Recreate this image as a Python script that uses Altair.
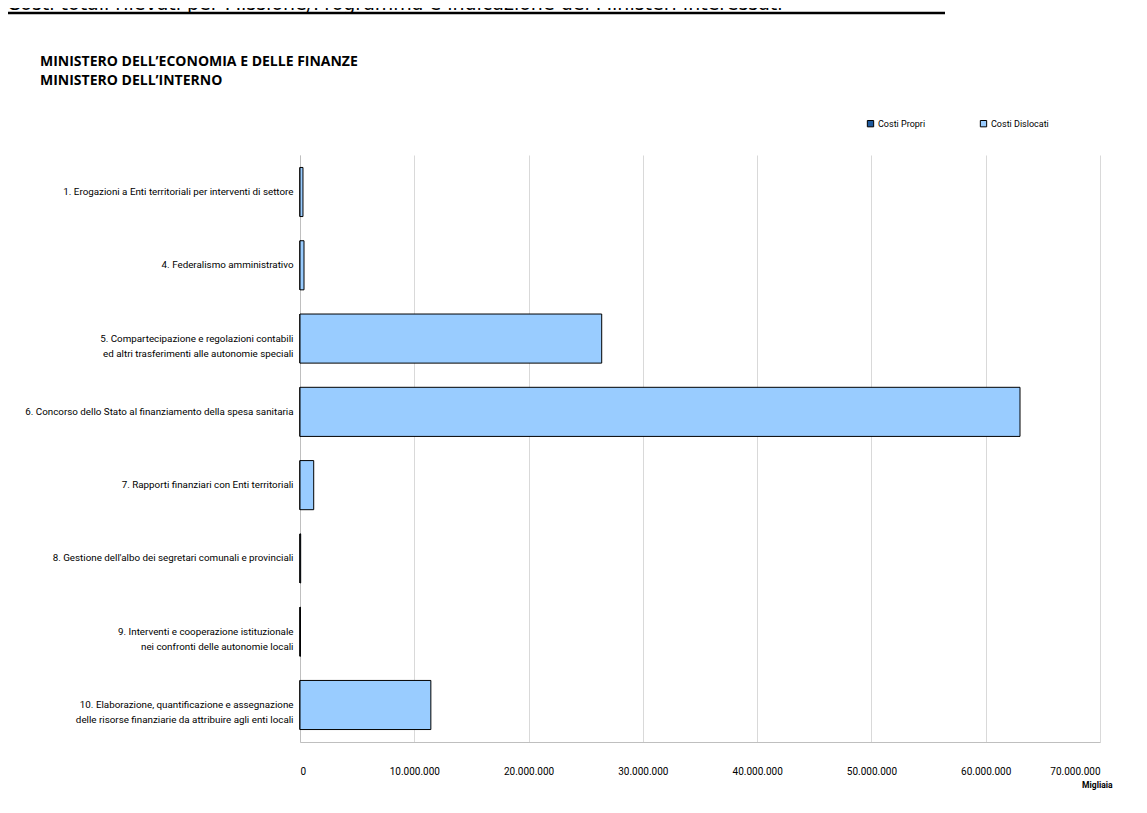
import altair as alt
import pandas as pd

categories = [
    "1. Erogazioni a Enti territoriali per interventi di settore",
    "4. Federalismo amministrativo",
    "5. Compartecipazione e regolazioni contabili|ed altri trasferimenti alle autonomie speciali",
    "6. Concorso dello Stato al finanziamento della spesa sanitaria",
    "7. Rapporti finanziari con Enti territoriali",
    "8. Gestione dell'albo dei segretari comunali e provinciali",
    "9. Interventi e cooperazione istituzionale|nei confronti delle autonomie locali",
    "10. Elaborazione, quantificazione e assegnazione|delle risorse finanziarie da attribuire agli enti locali",
]
costi_propri = [0, 0, 0, 0, 0, 0, 0, 0]
costi_dislocati = [260000, 350000, 26400000, 63000000, 1200000, 60000, 40000, 11450000]
series = ["Costi Propri", "Costi Dislocati"]
colors = ["#1F5A9E", "#99CCFF"]

page_title = "Costi totali rilevati per Missione/Programma e indicazione dei Ministeri interessati"
header_1 = "MINISTERO DELL\u2019ECONOMIA E DELLE FINANZE"
header_2 = "MINISTERO DELL\u2019INTERNO"
unit_label = "Migliaia"

rows = []
for i, c in enumerate(categories):
    rows.append({"cat": c, "serie": series[0], "value": costi_propri[i], "ord": 0})
    rows.append({"cat": c, "serie": series[1], "value": costi_dislocati[i], "ord": 1})
df = pd.DataFrame(rows)

label_font = "Roboto, Liberation Sans, sans-serif"

bars = alt.Chart(df).mark_bar(stroke="black", strokeWidth=1).encode(
    y=alt.Y(
        "cat:N",
        sort=categories,
        scale=alt.Scale(paddingInner=0.33, paddingOuter=0.17),
        axis=alt.Axis(
            title=None,
            labelExpr="split(datum.label, '|')",
            labelFont=label_font,
            labelFontSize=9.8,
            labelColor="black",
            labelLineHeight=15,
            labelPadding=7,
            labelLimit=400,
            ticks=False,
            domainColor="#BFBFBF",
            grid=False,
        ),
    ),
    x=alt.X(
        "value:Q",
        stack="zero",
        scale=alt.Scale(domain=[0, 70000000], nice=False),
        axis=alt.Axis(
            title=unit_label,
            titleFont=label_font,
            titleFontSize=8.5,
            titleFontWeight="bold",
            titleColor="black",
            titleAnchor="end",
            titleAlign="right",
            titleBaseline="top",
            titleX=812,
            titleY=38,
            values=[0, 10000000, 20000000, 30000000, 40000000, 50000000, 60000000, 70000000],
            labelExpr="replace(replace(format(datum.value, ','), ',', '.'), ',', '.')",
            labelFont=label_font,
            labelFontSize=10,
            labelColor="black",
            labelPadding=24,
            ticks=False,
            domainColor="#BFBFBF",
            grid=True,
            gridColor="#D9D9D9",
        ),
    ),
    color=alt.Color(
        "serie:N",
        scale=alt.Scale(domain=series, range=colors),
        sort=series,
        legend=alt.Legend(
            title=None,
            orient="none",
            direction="horizontal",
            legendX=566,
            legendY=-36,
            symbolType="square",
            symbolSize=40,
            symbolStrokeColor="black",
            symbolStrokeWidth=1,
            labelFont=label_font,
            labelFontSize=9,
            labelColor="black",
            labelOffset=3,
            columnPadding=52,
        ),
    ),
    order=alt.Order("ord:Q"),
)

top_title = alt.Chart(alt.Data(values=[{}])).mark_text(
    text=page_title, align="left", baseline="alphabetic",
    font="DejaVu Sans", fontSize=19, color="black",
).encode(x=alt.value(-293), y=alt.value(-145))

top_line = alt.Chart(alt.Data(values=[{}])).mark_rule(
    color="black", strokeWidth=2.5
).encode(x=alt.value(-293), x2=alt.value(645), y=alt.value(-142))

h1 = alt.Chart(alt.Data(values=[{}])).mark_text(
    text=header_1, align="left", baseline="alphabetic",
    font="Open Sans", fontWeight="bold", fontSize=14, color="black",
).encode(x=alt.value(-260), y=alt.value(-89))

h2 = alt.Chart(alt.Data(values=[{}])).mark_text(
    text=header_2, align="left", baseline="alphabetic",
    font="Open Sans", fontWeight="bold", fontSize=14, color="black",
).encode(x=alt.value(-260), y=alt.value(-70))

chart = alt.layer(bars, top_title, top_line, h1, h2).properties(
    width=800,
    height=587,
    background="white",
    autosize=alt.AutoSizeParams(type="none"),
    padding={"left": 292, "top": 147, "right": 39, "bottom": 58},
).configure_view(stroke=None)

chart.save("out.html", embed_options={"renderer": "svg", "actions": False})
